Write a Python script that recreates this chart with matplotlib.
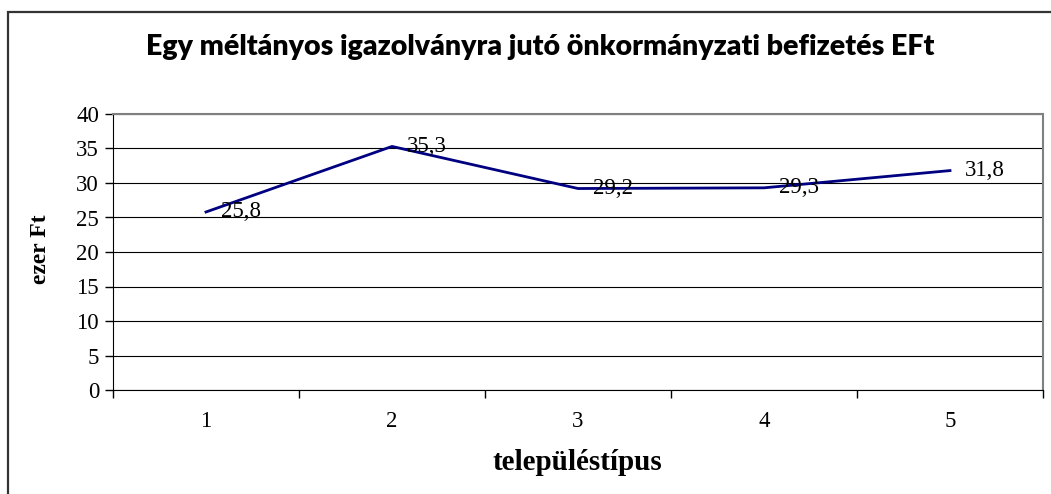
import matplotlib.pyplot as plt
from matplotlib.patches import Rectangle

# data
tipus = [1, 2, 3, 4, 5]
befizetes = [25.8, 35.3, 29.2, 29.3, 31.8]
labels = ["25,8", "35,3", "29,2", "29,3", "31,8"]

W, H = 1051, 494
fig = plt.figure(figsize=(W / 100, H / 100), dpi=100)

# outer chart border (right and bottom are cut off in the reference)
fig.patches.append(Rectangle((8 / W, -0.05), 1.1, 1 - 12 / H + 0.05,
                             transform=fig.transFigure, fill=False,
                             edgecolor="#333333", linewidth=1.6))

left, right, top, bottom = 113, 1043, 114, 390
ax = fig.add_axes([left / W, 1 - bottom / H, (right - left) / W, (bottom - top) / H])

ax.plot(tipus, befizetes, color="#000080", linewidth=2)
for x, y, t in zip(tipus, befizetes, labels):
    ax.annotate(t, (x, y), xytext=(11, 0), textcoords="offset points",
                va="center", ha="left", fontsize=16.5, family="Liberation Serif")

ax.set_xlim(0.5, 5.5)
ax.set_ylim(0, 40)
ax.set_yticks(range(0, 41, 5))
ax.set_xticks(tipus)
ax.set_xticks([0.5, 1.5, 2.5, 3.5, 4.5, 5.5], minor=True)
ax.tick_params(axis="x", which="major", length=0, pad=15)
ax.tick_params(axis="x", which="minor", length=6, width=1, color="black", direction="out")
ax.tick_params(axis="y", length=6, width=1, color="black", direction="out", pad=4)
for lab in ax.get_xticklabels() + ax.get_yticklabels():
    lab.set_family("Liberation Serif")
    lab.set_fontsize(16.5)

ax.grid(axis="y", color="black", linewidth=0.8)
ax.set_axisbelow(True)
for s in ["top", "right"]:
    ax.spines[s].set_color("#808080")
    ax.spines[s].set_linewidth(1.5)
ax.spines["left"].set_color("black")
ax.spines["bottom"].set_color("black")

fig.text(540 / W, 1 - 47 / H, "Egy méltányos igazolványra jutó önkormányzati befizetés EFt",
         ha="center", va="center", fontsize=20.5, fontweight="heavy", family="Lato")
fig.text(40 / W, 1 - 249 / H, "ezer Ft", rotation=90, ha="center", va="center",
         fontsize=17, fontweight="bold", family="Liberation Serif")
fig.text(577 / W, 1 - 462 / H, "településtípus", ha="center", va="center",
         fontsize=21, fontweight="bold", family="Liberation Serif")

fig.savefig("out.png", dpi=100)
